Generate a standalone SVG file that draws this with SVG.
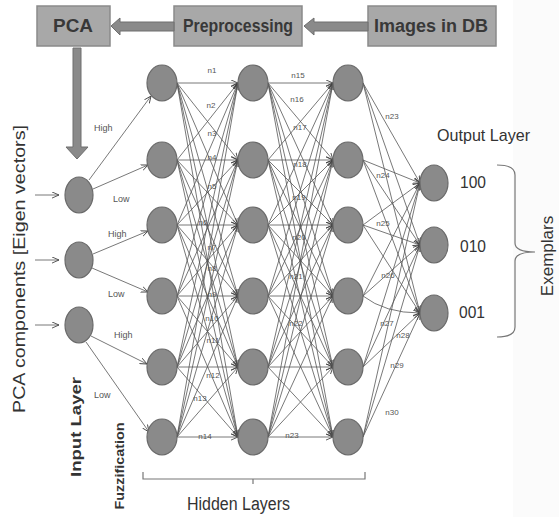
<svg xmlns="http://www.w3.org/2000/svg" width="559" height="517" viewBox="0 0 559 517">
<style>
.box{fill:#a8a8a8;stroke:#8a8a8a;stroke-width:1.5}
.bt{font-family:"Liberation Sans",Arial,sans-serif;font-weight:bold;font-size:18px;fill:#383838;text-anchor:middle}
.big{fill:#8a8a8a;stroke:#6e6e6e;stroke-width:1}
.nd{fill:#8a8a8a;stroke:#6a6a6a;stroke-width:1.2}
.c line,.c path{stroke:#555;stroke-width:0.8;fill:none;marker-end:url(#ah)}
.lb{font-family:"Liberation Sans",Arial,sans-serif;font-size:8px;fill:#555;text-anchor:middle}
.hl{font-family:"Liberation Sans",Arial,sans-serif;font-size:9px;fill:#555}
.t{font-family:"Liberation Sans",Arial,sans-serif;fill:#333}
.brk{fill:none;stroke:#777;stroke-width:1.2}
</style>
<defs>
<marker id="ah" viewBox="0 0 8 8" refX="8" refY="4" markerWidth="7" markerHeight="7" markerUnits="userSpaceOnUse" orient="auto"><path d="M0,0.5 L8,4 L0,7.5" fill="none" stroke="#444" stroke-width="1"/></marker>
</defs>
<rect x="0" y="0" width="559" height="517" fill="#ffffff"/>
<rect x="513" y="0" width="46" height="517" fill="#fbfbfb"/>

<g id="box-pca"><rect class="box" x="37" y="6" width="73" height="40"/><text class="bt" x="73" y="32" textLength="40" lengthAdjust="spacingAndGlyphs">PCA</text></g>
<g id="box-pre"><rect class="box" x="174" y="6" width="128" height="40"/><text class="bt" x="238" y="32" textLength="110" lengthAdjust="spacingAndGlyphs">Preprocessing</text></g>
<g id="box-img"><rect class="box" x="368" y="6" width="128" height="40"/><text class="bt" x="431" y="32" textLength="114" lengthAdjust="spacingAndGlyphs">Images in DB</text></g>

<g id="big-arrows">
<path class="big" d="M174,22 L120,22 L120,18 L111,26 L120,35 L120,31 L174,31 Z"/>
<path class="big" d="M368,22 L314,22 L314,18 L304,26 L314,35 L314,31 L368,31 Z"/>
<path class="big" d="M73,48 L81,48 L81,147 L88,147 L77,159 L66,147 L73,147 Z"/>
</g>

<g class="c" id="connectors">
<line x1="35" y1="195" x2="59" y2="195"/>
<line x1="35" y1="260" x2="59" y2="260"/>
<line x1="35" y1="325" x2="59" y2="325"/>
<line x1="89" y1="180" x2="151" y2="96"/>
<line x1="93" y1="189" x2="148" y2="165"/>
<line x1="93" y1="254" x2="148" y2="231"/>
<line x1="92" y1="268" x2="148" y2="292"/>
<line x1="91" y1="336" x2="147" y2="364"/>
<line x1="86" y1="342" x2="149" y2="432"/>

<line x1="177" y1="83" x2="238" y2="83"/><line x1="177" y1="83" x2="238" y2="160"/><line x1="177" y1="83" x2="238" y2="225"/><line x1="177" y1="83" x2="238" y2="296"/><line x1="177" y1="83" x2="238" y2="367"/><line x1="177" y1="83" x2="238" y2="437"/>
<line x1="177" y1="160" x2="238" y2="83"/><line x1="177" y1="160" x2="238" y2="160"/><line x1="177" y1="160" x2="238" y2="225"/><line x1="177" y1="160" x2="238" y2="296"/><line x1="177" y1="160" x2="238" y2="367"/><line x1="177" y1="160" x2="238" y2="437"/>
<line x1="177" y1="225" x2="238" y2="83"/><line x1="177" y1="225" x2="238" y2="160"/><line x1="177" y1="225" x2="238" y2="225"/><line x1="177" y1="225" x2="238" y2="296"/><line x1="177" y1="225" x2="238" y2="367"/><line x1="177" y1="225" x2="238" y2="437"/>
<line x1="177" y1="296" x2="238" y2="83"/><line x1="177" y1="296" x2="238" y2="160"/><line x1="177" y1="296" x2="238" y2="225"/><line x1="177" y1="296" x2="238" y2="296"/><line x1="177" y1="296" x2="238" y2="367"/><line x1="177" y1="296" x2="238" y2="437"/>
<line x1="177" y1="367" x2="238" y2="83"/><line x1="177" y1="367" x2="238" y2="160"/><line x1="177" y1="367" x2="238" y2="225"/><line x1="177" y1="367" x2="238" y2="296"/><line x1="177" y1="367" x2="238" y2="367"/><line x1="177" y1="367" x2="238" y2="437"/>
<line x1="177" y1="437" x2="238" y2="83"/><line x1="177" y1="437" x2="238" y2="160"/><line x1="177" y1="437" x2="238" y2="225"/><line x1="177" y1="437" x2="238" y2="296"/><line x1="177" y1="437" x2="238" y2="367"/><line x1="177" y1="437" x2="238" y2="437"/>

<line x1="268" y1="83" x2="333" y2="83"/><line x1="268" y1="83" x2="333" y2="160"/><line x1="268" y1="83" x2="333" y2="225"/><line x1="268" y1="83" x2="333" y2="296"/><line x1="268" y1="83" x2="333" y2="367"/><line x1="268" y1="83" x2="333" y2="437"/>
<line x1="268" y1="160" x2="333" y2="83"/><line x1="268" y1="160" x2="333" y2="160"/><line x1="268" y1="160" x2="333" y2="225"/><line x1="268" y1="160" x2="333" y2="296"/><line x1="268" y1="160" x2="333" y2="367"/><line x1="268" y1="160" x2="333" y2="437"/>
<line x1="268" y1="225" x2="333" y2="83"/><line x1="268" y1="225" x2="333" y2="160"/><line x1="268" y1="225" x2="333" y2="225"/><line x1="268" y1="225" x2="333" y2="296"/><line x1="268" y1="225" x2="333" y2="367"/><line x1="268" y1="225" x2="333" y2="437"/>
<line x1="268" y1="296" x2="333" y2="83"/><line x1="268" y1="296" x2="333" y2="160"/><line x1="268" y1="296" x2="333" y2="225"/><line x1="268" y1="296" x2="333" y2="296"/><line x1="268" y1="296" x2="333" y2="367"/><line x1="268" y1="296" x2="333" y2="437"/>
<line x1="268" y1="367" x2="333" y2="83"/><line x1="268" y1="367" x2="333" y2="160"/><line x1="268" y1="367" x2="333" y2="225"/><line x1="268" y1="367" x2="333" y2="296"/><line x1="268" y1="367" x2="333" y2="367"/><line x1="268" y1="367" x2="333" y2="437"/>
<line x1="268" y1="437" x2="333" y2="83"/><line x1="268" y1="437" x2="333" y2="160"/><line x1="268" y1="437" x2="333" y2="225"/><line x1="268" y1="437" x2="333" y2="296"/><line x1="268" y1="437" x2="333" y2="367"/><line x1="268" y1="437" x2="333" y2="437"/>

<line x1="363" y1="83" x2="420" y2="183"/><line x1="363" y1="83" x2="420" y2="245"/><line x1="363" y1="83" x2="420" y2="313"/>
<line x1="363" y1="160" x2="420" y2="183"/><line x1="363" y1="160" x2="420" y2="245"/><line x1="363" y1="160" x2="420" y2="313"/>
<line x1="363" y1="225" x2="420" y2="183"/><line x1="363" y1="225" x2="420" y2="245"/><line x1="363" y1="225" x2="420" y2="313"/>
<line x1="363" y1="296" x2="420" y2="183"/><line x1="363" y1="296" x2="420" y2="245"/><path d="M363,296 Q385,313 420,313"/>
<line x1="363" y1="367" x2="420" y2="183"/><line x1="363" y1="367" x2="420" y2="245"/><line x1="363" y1="367" x2="420" y2="313"/>
<line x1="363" y1="437" x2="420" y2="183"/><line x1="363" y1="437" x2="420" y2="245"/><line x1="363" y1="437" x2="420" y2="313"/>
</g>

<g id="input-layer">
<ellipse id="in1" class="nd" cx="79" cy="195" rx="14" ry="18"/>
<ellipse id="in2" class="nd" cx="79" cy="260" rx="14" ry="18"/>
<ellipse id="in3" class="nd" cx="79" cy="325" rx="14" ry="18"/>
</g>
<g id="hidden-1">
<ellipse class="nd" cx="162" cy="83" rx="15" ry="18"/>
<ellipse class="nd" cx="162" cy="160" rx="15" ry="18"/>
<ellipse class="nd" cx="162" cy="225" rx="15" ry="18"/>
<ellipse class="nd" cx="162" cy="296" rx="15" ry="18"/>
<ellipse class="nd" cx="162" cy="367" rx="15" ry="18"/>
<ellipse class="nd" cx="162" cy="437" rx="15" ry="18"/>
</g>
<g id="hidden-2">
<ellipse class="nd" cx="253" cy="83" rx="15" ry="18"/>
<ellipse class="nd" cx="253" cy="160" rx="15" ry="18"/>
<ellipse class="nd" cx="253" cy="225" rx="15" ry="18"/>
<ellipse class="nd" cx="253" cy="296" rx="15" ry="18"/>
<ellipse class="nd" cx="253" cy="367" rx="15" ry="18"/>
<ellipse class="nd" cx="253" cy="437" rx="15" ry="18"/>
</g>
<g id="hidden-3">
<ellipse class="nd" cx="348" cy="83" rx="15" ry="18"/>
<ellipse class="nd" cx="348" cy="160" rx="15" ry="18"/>
<ellipse class="nd" cx="348" cy="225" rx="15" ry="18"/>
<ellipse class="nd" cx="348" cy="296" rx="15" ry="18"/>
<ellipse class="nd" cx="348" cy="367" rx="15" ry="18"/>
<ellipse class="nd" cx="348" cy="437" rx="15" ry="18"/>
</g>
<g id="output-layer">
<ellipse class="nd" cx="434" cy="183" rx="14" ry="18"/>
<ellipse class="nd" cx="434" cy="245" rx="14" ry="18"/>
<ellipse class="nd" cx="434" cy="313" rx="14" ry="18"/>
</g>

<g id="weight-labels">
<text class="hl" x="94" y="131">High</text>
<text class="hl" x="113" y="202">Low</text>
<text class="hl" x="108" y="237">High</text>
<text class="hl" x="108" y="297">Low</text>
<text class="hl" x="114" y="338">High</text>
<text class="hl" x="94" y="398">Low</text>
<text class="lb" x="212" y="73">n1</text>
<text class="lb" x="211" y="108">n2</text>
<text class="lb" x="212" y="136">n3</text>
<text class="lb" x="212" y="160">n4</text>
<text class="lb" x="212" y="189">n5</text>
<text class="lb" x="203" y="225">n6</text>
<text class="lb" x="212" y="250">n7</text>
<text class="lb" x="212" y="271">n8</text>
<text class="lb" x="212" y="297">n9</text>
<text class="lb" x="212" y="321">n10</text>
<text class="lb" x="213" y="343">n11</text>
<text class="lb" x="213" y="378">n12</text>
<text class="lb" x="200" y="401">n13</text>
<text class="lb" x="205" y="439">n14</text>
<text class="lb" x="298" y="78">n15</text>
<text class="lb" x="297" y="102">n16</text>
<text class="lb" x="300" y="130">n17</text>
<text class="lb" x="300" y="167">n18</text>
<text class="lb" x="299" y="200">n19</text>
<text class="lb" x="299" y="240">n20</text>
<text class="lb" x="296" y="279">n21</text>
<text class="lb" x="296" y="326">n22</text>
<text class="lb" x="292" y="438">n23</text>
<text class="lb" x="392" y="119">n23</text>
<text class="lb" x="383" y="178">n24</text>
<text class="lb" x="383" y="226">n25</text>
<text class="lb" x="388" y="278">n26</text>
<text class="lb" x="387" y="326">n27</text>
<text class="lb" x="403" y="338">n28</text>
<text class="lb" x="397" y="368">n29</text>
<text class="lb" x="392" y="415">n30</text>
</g>

<g id="annotations">
<text class="t" font-size="17" text-anchor="middle" transform="translate(25,269) rotate(-90)" textLength="288" lengthAdjust="spacingAndGlyphs">PCA components  [Eigen vectors]</text>
<text class="t" font-size="14" font-weight="bold" fill="#111" text-anchor="middle" transform="translate(81,427) rotate(-90)" textLength="100" lengthAdjust="spacingAndGlyphs">Input Layer</text>
<text class="t" font-size="12" font-weight="bold" fill="#111" text-anchor="middle" transform="translate(124,466) rotate(-90)" textLength="87" lengthAdjust="spacingAndGlyphs">Fuzzification</text>
<path class="brk" d="M143,472 L143,479 L365,479 L365,472 M253,479 L253,484"/>
<text class="t" font-size="18" x="187" y="510" textLength="103" lengthAdjust="spacingAndGlyphs">Hidden Layers</text>
<text class="t" font-size="17" x="437" y="141" textLength="93" lengthAdjust="spacingAndGlyphs">Output Layer</text>
<text class="t" font-size="17" x="460" y="188" textLength="26" lengthAdjust="spacingAndGlyphs">100</text>
<text class="t" font-size="17" x="460" y="252" textLength="26" lengthAdjust="spacingAndGlyphs">010</text>
<text class="t" font-size="17" x="459" y="318" textLength="26" lengthAdjust="spacingAndGlyphs">001</text>
<path class="brk" d="M497,165 Q515,165 515,175 L515,243 Q515,252 535,252 Q515,252 515,261 L515,327 Q515,337 497,337"/>
<text class="t" font-size="17" text-anchor="middle" transform="translate(553,256) rotate(-90)">Exemplars</text>
</g>
</svg>
